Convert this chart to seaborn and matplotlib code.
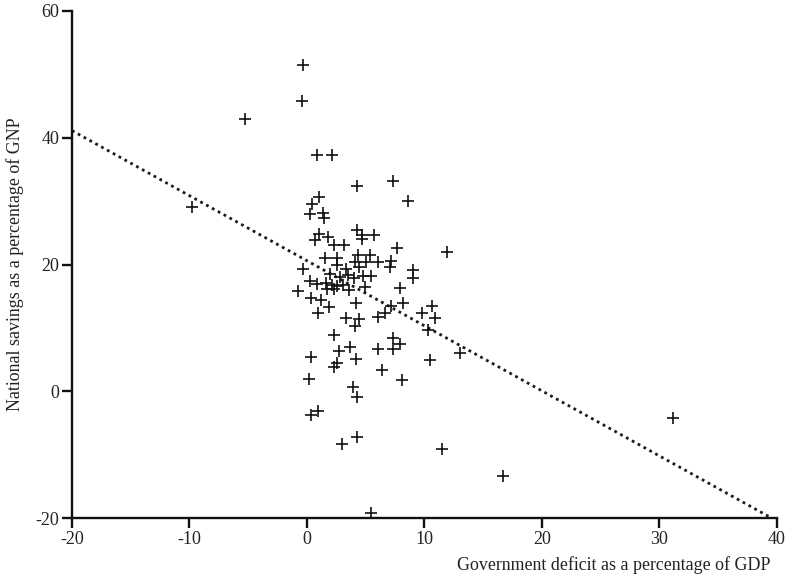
import matplotlib
matplotlib.use("Agg")
import matplotlib.pyplot as plt
import seaborn as sns
import numpy as np
import pandas as pd

# Government deficit (% of GDP)
deficit = [
    -0.35, -0.41, 0.9, 2.1, 4.25, 7.3, 1.06, 8.6,
    0.47, 0.27, 1.35, 1.46, 4.3, 4.67, 4.67, 5.75, 1.04, 0.7, 1.83, 2.34, 3.2,
    7.7, 11.97, 1.52, 2.6, 4.33, 5.38, 4.1, 5.04, 6.09, 7.15, 7.09, 2.55, 4.47,
    -0.3, 3.34, 9.0, 9.07, 1.98, 2.83, 3.54, 4.02, 4.76, 5.47, 0.27, 0.84, 1.64,
    2.12, 2.55, 3.06, 1.69, 2.32, 3.62, 4.96, 7.94, -0.72, 0.33, 1.18, 4.19, 8.22,
    1.92, 0.98, 3.31, 4.47, 4.1, 6.04, 6.66, 7.15, 9.79, 10.69, 10.92, 10.27, 13.05,
    2.32, 7.37, 7.94, 7.37, 6.09, 3.68, 2.77, 0.36, 4.16, 10.5, 2.6, 2.32, 6.43,
    0.19, 8.14, 3.96, 4.25,
    0.36, 0.93, 3.03, 4.25, 11.54, 5.47,
    -9.8, -5.26, 31.2, 16.74,
]
# National savings (% of GNP)
savings = [
    51.5, 45.8, 37.3, 37.3, 32.3, 33.2, 30.7, 30.0,
    29.6, 28.0, 28.15, 27.3, 25.5, 24.7, 24.06, 24.7, 24.85, 23.9, 24.3, 23.0, 23.0,
    22.6, 21.95, 21.0, 21.07, 21.5, 21.5, 20.4, 20.4, 20.4, 20.5, 19.6, 19.86, 19.6,
    19.34, 19.34, 19.07, 17.86, 18.44, 18.0, 18.28, 17.86, 18.13, 18.13, 17.34, 16.98, 17.1,
    16.7, 16.6, 16.82, 16.19, 16.19, 15.92, 16.45, 16.29, 15.77, 14.7, 14.35, 14.0, 14.0,
    13.3, 12.35, 11.57, 11.36, 10.3, 11.8, 12.4, 13.45, 12.35, 13.4, 11.57, 9.74, 6.06,
    8.95, 8.42, 7.43, 6.75, 6.75, 7.0, 6.33, 5.43, 5.07, 4.9, 4.5, 3.86, 3.45,
    2.03, 1.87, 0.71, -0.87,
    -3.75, -3.12, -8.3, -7.16, -9.1, -19.2,
    29.0, 43.0, -4.2, -13.3,
]

# Fitted line
fit_intercept = 20.6
fit_slope = -1.025

x_ticks = [-20, -10, 0, 10, 20, 30, 40]
y_ticks = [-20, 0, 20, 40, 60]

df = pd.DataFrame({"deficit": deficit, "savings": savings})

sns.set_theme(style="ticks")
plt.rcParams["font.family"] = ["Liberation Serif", "DejaVu Serif"]

fig = plt.figure(figsize=(7.93, 5.81), dpi=100)
ax = fig.add_axes([0.0908, 0.1079, 0.9794 - 0.0908, 0.9816 - 0.1079])

line_x = np.array([x_ticks[0], x_ticks[-1]], dtype=float)
line_df = pd.DataFrame({"x": line_x, "y": fit_intercept + fit_slope * line_x})
sns.lineplot(data=line_df, x="x", y="y", ax=ax, color="#1a1a1a",
             linestyle=(0, (1, 1.4)), linewidth=2.0)

sns.scatterplot(data=df, x="deficit", y="savings", ax=ax, marker="+",
                color="#111111", s=64, linewidth=1.2, zorder=3)

ax.set_xlim(-20, 40)
ax.set_ylim(-20, 60)
ax.set_xticks(x_ticks)
ax.set_yticks(y_ticks)
ax.set_xticklabels([str(t) for t in x_ticks])
ax.set_yticklabels([str(t) for t in y_ticks])

for s in ["top", "right"]:
    ax.spines[s].set_visible(False)
for s in ["left", "bottom"]:
    ax.spines[s].set_linewidth(1.7)
    ax.spines[s].set_color("#111111")

ax.tick_params(axis="both", direction="out", length=7, width=1.7,
               color="#111111", labelsize=13.0, labelcolor="#222222", pad=2)

ax.set_xlabel("Government deficit as a percentage of GDP", fontsize=12.9,
              color="#222222", ha="right")
ax.xaxis.set_label_coords(0.991, -0.075)
ax.set_ylabel("National savings as a percentage of GNP", fontsize=12.9,
              color="#222222")
ax.yaxis.set_label_coords(-0.068, 0.5)

fig.savefig("out.png", dpi=100)
